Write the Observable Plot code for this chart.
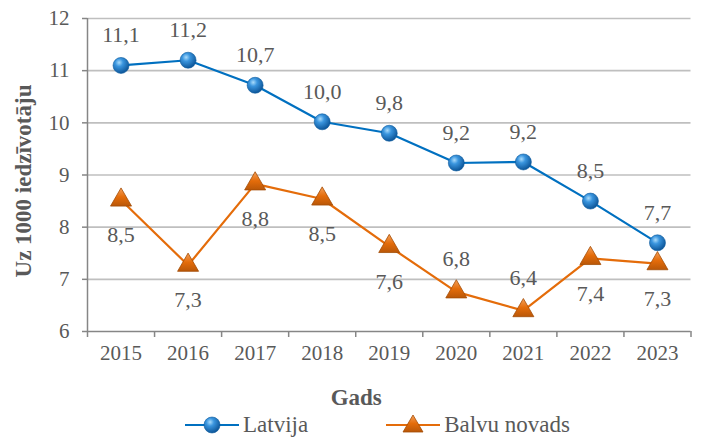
<!DOCTYPE html>
<html>
<head>
<meta charset="utf-8">
<script src="https://cdn.jsdelivr.net/npm/d3@7"></script>
<script src="https://cdn.jsdelivr.net/npm/@observablehq/plot@0.6"></script>
<style>
  html, body { margin: 0; padding: 0; background: #fff; }
  #wrap { width: 702px; font-family: "Liberation Serif", "Times New Roman", serif; }
  #wrap svg text { font-family: "Liberation Serif", "Times New Roman", serif !important; }
  #legend { height: 29px; display: flex; align-items: center; justify-content: flex-start; font-size: 23px; color: #595959; }
  #legend .item { display: flex; align-items: center; }
</style>
</head>
<body>
<div id="wrap"></div>
<script>
const years = [2015, 2016, 2017, 2018, 2019, 2020, 2021, 2022, 2023];
const latvija = [11.1, 11.2, 10.72, 10.02, 9.8, 9.23, 9.25, 8.5, 7.7];
const latvijaLabels = ["11,1", "11,2", "10,7", "10,0", "9,8", "9,2", "9,2", "8,5", "7,7"];
const balvu = [8.52, 7.27, 8.83, 8.54, 7.63, 6.76, 6.4, 7.4, 7.3];
const balvuLabels = ["8,5", "7,3", "8,8", "8,5", "7,6", "6,8", "6,4", "7,4", "7,3"];
const balvuLabelSide = ["below", "below", "below", "below", "below", "above", "above", "below", "below"];
const yTicks = [6, 7, 8, 9, 10, 11, 12];
const seriesNames = ["Latvija", "Balvu novads"];
const xTitle = "Gads";
const yTitle = "Uz 1000 iedzīvotāju";

const latData = years.map((y, i) => ({year: y, value: latvija[i], label: latvijaLabels[i]}));
const balData = years.map((y, i) => ({year: y, value: balvu[i], label: balvuLabels[i], side: balvuLabelSide[i]}));
const bounds = [...years.map(y => y - 0.5), years[years.length - 1] + 0.5];

const blue = "#0070C0", orange = "#E46C0A", grid = "#BFBFBF", axisCol = "#868686", txt = "#595959";
const font = "'Liberation Serif', 'Times New Roman', serif";

const chart = Plot.plot({
  width: 702,
  height: 410,
  marginTop: 18,
  marginBottom: 79,
  marginLeft: 87,
  marginRight: 11.5,
  style: {fontFamily: font, background: "white", color: txt},
  x: {type: "linear", domain: [bounds[0], bounds[bounds.length - 1]]},
  y: {domain: [6, 12]},
  marks: [
    Plot.ruleY(yTicks.filter(t => t > 6), {y: d => d, stroke: grid, strokeWidth: 1.6}),
    Plot.ruleX([bounds[0]], {stroke: axisCol, strokeWidth: 1.5}),
    Plot.ruleY([6], {stroke: axisCol, strokeWidth: 1.5}),
    Plot.axisY({ticks: yTicks, tickSize: 5, tickPadding: 13, fontSize: 21, fontFamily: font, stroke: axisCol, strokeWidth: 1.5, fill: txt, tickFormat: d => String(d), label: null}),
    Plot.axisX({ticks: bounds, tickSize: 6, stroke: axisCol, strokeWidth: 1.5, tickFormat: () => "", label: null}),
    Plot.axisX({ticks: years, tickSize: 0, tickPadding: 14, fontSize: 21, fontFamily: font, fill: txt, tickFormat: d => String(d), label: null}),
    Plot.text([yTitle], {text: d => d, frameAnchor: "left", textAnchor: "middle", lineAnchor: "middle", rotate: -90, dx: -64, dy: 6, fontSize: 23, fontWeight: "bold", fontFamily: font, fill: txt}),
    Plot.text([xTitle], {text: d => d, frameAnchor: "bottom", textAnchor: "middle", lineAnchor: "middle", dx: -33, dy: 66, fontSize: 23, fontWeight: "bold", fontFamily: font, fill: txt}),
    Plot.line(latData, {x: "year", y: "value", stroke: blue, strokeWidth: 2.2}),
    Plot.line(balData, {x: "year", y: "value", stroke: orange, strokeWidth: 2.2}),
    Plot.dot(latData, {x: "year", y: "value", r: 8, fill: "url(#gBlue)", stroke: "#0B5A9E", strokeWidth: 0.6}),
    Plot.dot(balData, {x: "year", y: "value", symbol: "triangle", r: 7.8, fill: "url(#gOrange)", stroke: "#A34C06", strokeWidth: 0.8}),
    Plot.text(latData, {x: "year", y: "value", text: "label", dy: -30, fontSize: 22, fontFamily: font, fill: txt}),
    Plot.text(balData.filter(d => d.side === "below"), {x: "year", y: "value", text: "label", dy: 35, fontSize: 22, fontFamily: font, fill: txt}),
    Plot.text(balData.filter(d => d.side === "above"), {x: "year", y: "value", text: "label", dy: -33, fontSize: 22, fontFamily: font, fill: txt})
  ]
});

const ns = "http://www.w3.org/2000/svg";
const defs = document.createElementNS(ns, "defs");
defs.innerHTML = `
  <radialGradient id="gBlue" cx="0.38" cy="0.32" r="0.7">
    <stop offset="0" stop-color="#A9DBFB"/>
    <stop offset="0.35" stop-color="#3A95DE"/>
    <stop offset="1" stop-color="#0B5396"/>
  </radialGradient>
  <linearGradient id="gOrange" x1="0" y1="0" x2="0" y2="1">
    <stop offset="0" stop-color="#F4A05A"/>
    <stop offset="0.5" stop-color="#E46C0A"/>
    <stop offset="1" stop-color="#B95708"/>
  </linearGradient>`;
chart.insertBefore(defs, chart.firstChild);

const wrap = document.getElementById("wrap");
wrap.appendChild(chart);

const legend = document.createElement("div");
legend.id = "legend";
function item(name, kind, marginLeft) {
  const el = document.createElement("div");
  el.className = "item";
  el.style.marginLeft = marginLeft + "px";
  const col = kind === "dot" ? blue : orange;
  const marker = kind === "dot"
    ? `<circle cx="27" cy="14" r="8" fill="url(#gBlue)" stroke="#0B5A9E" stroke-width="0.6"/>`
    : `<path d="M27,4 L37,21 L17,21 Z" fill="url(#gOrange)" stroke="#A34C06" stroke-width="0.8"/>`;
  el.innerHTML = `<svg width="54" height="28" style="overflow:visible"><line x1="0" x2="54" y1="14" y2="14" stroke="${col}" stroke-width="2.2"/>${marker}</svg><span style="margin-left:4px">${name}</span>`;
  return el;
}
legend.appendChild(item(seriesNames[0], "dot", 185));
legend.appendChild(item(seriesNames[1], "tri", 78));
wrap.appendChild(legend);
</script>
</body>
</html>
